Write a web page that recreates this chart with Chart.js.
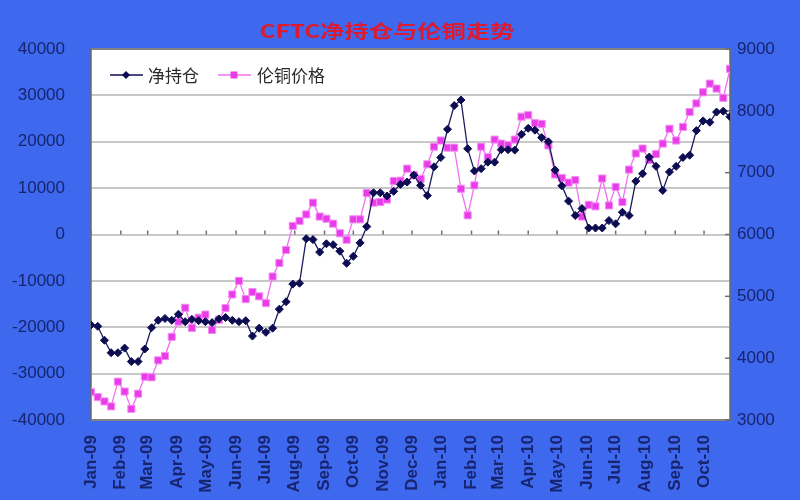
<!DOCTYPE html>
<html>
<head>
<meta charset="utf-8">
<script src="https://cdn.jsdelivr.net/npm/chart.js@4.4.0/dist/chart.umd.min.js"></script>
<style>
  html, body { margin: 0; padding: 0; background: #3e68ee; }
  #wrap { width: 800px; height: 500px; }
</style>
</head>
<body>
<div id="wrap"><canvas id="chart" width="800" height="500"></canvas></div>
<script>
// Title, series names and axis labels
const chartTitle = 'CFTC净持仓与伦铜走势';
const seriesNames = ['净持仓', '伦铜价格'];
const monthLabels = ['Jan-09', 'Feb-09', 'Mar-09', 'Apr-09', 'May-09', 'Jun-09', 'Jul-09', 'Aug-09',
    'Sep-09', 'Oct-09', 'Nov-09', 'Dec-09', 'Jan-10', 'Feb-10', 'Mar-10', 'Apr-10', 'May-10',
    'Jun-10', 'Jul-10', 'Aug-10', 'Sep-10', 'Oct-10'];

// Weekly values, first week 2009-01-06
const netPosition = [
    -19500, -19800, -22800, -25500, -25500, -24500, -27400, -27400, -24700, -20100,
    -18500, -18100, -18500, -17200, -18800, -18300, -18600, -18800, -19000, -18200,
    -17900, -18500, -18800, -18600, -21900, -20200, -21100, -20200, -16100, -14500,
    -10700, -10500, -900, -1100, -3800, -2000, -2200, -3600, -6200, -4700,
    -1800, 1700, 9000, 9000, 8300, 9300, 10800, 11300, 12800, 10600,
    8400, 14600, 16600, 22700, 27800, 29000, 18500, 13700, 14200, 15600,
    15600, 18300, 18300, 18200, 21600, 22900, 22500, 20900, 20000, 13900,
    10500, 7200, 4100, 5600, 1400, 1400, 1400, 3000, 2300, 4800,
    4100, 11500, 13100, 16700, 14700, 9500, 13500, 14700, 16600, 17100,
    22400, 24500, 24200, 26400, 26600, 25400
];
const copperPrice = [
    3450, 3370, 3300, 3220, 3620, 3460, 3180, 3425, 3700, 3690,
    3965, 4035, 4345, 4590, 4815, 4490, 4655, 4705, 4455, 4620,
    4810, 5030, 5250, 4955, 5070, 5000, 4890, 5320, 5540, 5750,
    6140, 6220, 6325, 6515, 6290, 6255, 6175, 6020, 5915, 6245,
    6245, 6670, 6515, 6525, 6565, 6865, 6870, 7065, 6960, 6900,
    7135, 7420, 7520, 7405, 7405, 6740, 6310, 6795, 7420, 7250,
    7535, 7470, 7445, 7535, 7905, 7930, 7800, 7790, 7440, 6970,
    6915, 6840, 6880, 6290, 6480, 6455, 6905, 6470, 6770, 6525,
    7050, 7310, 7390, 7205, 7300, 7470, 7710, 7520, 7740, 7980,
    8120, 8300, 8440, 8360, 8210, 8680
];

const startDate = Date.UTC(2009, 0, 6);
const DAY = 86400000;

// x in days since the first week
const toPoints = arr => arr.map((v, i) => ({ x: i * 7, y: v }));
const monthDays = monthLabels.map((l, m) => (Date.UTC(2009, m, 6) - startDate) / DAY);

const navy = '#0c0c52';
const pink = '#e83ce8';
const labelColor = '#172470';
const plainNumber = v => String(v);

const decor = {
    id: 'decor',
    beforeDraw(chart) {
        const { ctx, chartArea: a } = chart;
        ctx.save();
        ctx.fillStyle = '#3e68ee';
        ctx.fillRect(0, 0, chart.width, chart.height);
        ctx.fillStyle = '#ffffff';
        ctx.fillRect(a.left, a.top, a.right - a.left, a.bottom - a.top);
        ctx.restore();
    },
    beforeDatasetsDraw(chart) {
        const { ctx, chartArea: a, scales } = chart;
        const y0 = scales.y.getPixelForValue(0);
        ctx.save();
        ctx.strokeStyle = '#707070';
        ctx.lineWidth = 1.5;
        // month ticks on the zero line
        monthDays.forEach(d => {
            const x = scales.x.getPixelForValue(d);
            ctx.beginPath();
            ctx.moveTo(x, y0 - 4);
            ctx.lineTo(x, y0);
            ctx.stroke();
        });
        // right axis ticks pointing inward
        scales.y1.ticks.forEach(t => {
            const y = scales.y1.getPixelForValue(t.value);
            ctx.beginPath();
            ctx.moveTo(a.right - 5, y);
            ctx.lineTo(a.right, y);
            ctx.stroke();
        });
        ctx.strokeStyle = '#6a6a6a';
        ctx.lineWidth = 1.5;
        ctx.strokeRect(a.left, a.top, a.right - a.left, a.bottom - a.top);
        ctx.restore();
    },
    afterDraw(chart) {
        const ctx = chart.ctx;
        ctx.save();
        // title
        ctx.font = 'bold 18px "Noto Sans CJK SC"';
        ctx.fillStyle = '#dc1a30';
        ctx.textAlign = 'center';
        ctx.textBaseline = 'middle';
        ctx.translate(387, 31);
        ctx.scale(1.35, 1);
        ctx.fillText(chartTitle, 0, 0);
        ctx.restore();

        // legend inside the plot
        ctx.save();
        ctx.font = '17px "Noto Sans CJK SC"';
        ctx.textBaseline = 'middle';
        const ly = 75;
        ctx.strokeStyle = navy;
        ctx.lineWidth = 1.5;
        ctx.beginPath(); ctx.moveTo(110, ly); ctx.lineTo(143, ly); ctx.stroke();
        ctx.fillStyle = navy;
        ctx.beginPath();
        ctx.moveTo(126, ly - 4); ctx.lineTo(130, ly); ctx.lineTo(126, ly + 4); ctx.lineTo(122, ly);
        ctx.closePath(); ctx.fill();
        ctx.fillStyle = '#2a2a2a';
        ctx.fillText(seriesNames[0], 148, ly + 1);

        ctx.strokeStyle = '#f070f0';
        ctx.beginPath(); ctx.moveTo(218, ly); ctx.lineTo(251, ly); ctx.stroke();
        ctx.fillStyle = pink;
        ctx.fillRect(230.5, ly - 3.5, 7, 7);
        ctx.fillStyle = '#2a2a2a';
        ctx.fillText(seriesNames[1], 257, ly + 1);
        ctx.restore();
    }
};

new Chart(document.getElementById('chart'), {
    type: 'line',
    data: {
        datasets: [{
            label: seriesNames[0],
            data: toPoints(netPosition),
            yAxisID: 'y',
            borderColor: '#1c1c5c',
            borderWidth: 1.3,
            pointStyle: 'rectRot',
            pointRadius: 4,
            pointBackgroundColor: navy,
            pointBorderColor: navy,
            pointBorderWidth: 1,
            tension: 0
        }, {
            label: seriesNames[1],
            data: toPoints(copperPrice),
            yAxisID: 'y1',
            borderColor: '#f070f0',
            borderWidth: 1.3,
            pointStyle: 'rect',
            pointRadius: 5,
            pointBackgroundColor: pink,
            pointBorderColor: '#f58cf5',
            pointBorderWidth: 1,
            tension: 0
        }]
    },
    options: {
        responsive: false,
        animation: false,
        devicePixelRatio: 1,
        layout: { padding: { top: 49, left: 0, right: 0, bottom: 0 } },
        plugins: {
            legend: { display: false },
            title: { display: false },
            tooltip: { enabled: false }
        },
        scales: {
            x: {
                type: 'linear',
                position: 'bottom',
                min: 0,
                max: (netPosition.length - 1) * 7,
                afterBuildTicks: axis => { axis.ticks = monthDays.map(v => ({ value: v })); },
                afterFit: s => { s.height = 80; s.paddingLeft = 0; s.paddingRight = 0; },
                grid: { display: false },
                border: { display: false },
                ticks: {
                    autoSkip: false,
                    minRotation: 90,
                    maxRotation: 90,
                    padding: 7,
                    color: labelColor,
                    font: { family: 'Liberation Sans', size: 17, weight: 'bold' },
                    callback: (v, i) => monthLabels[i]
                }
            },
            y: {
                position: 'left',
                min: -40000,
                max: 40000,
                afterFit: s => { s.width = 91; s.paddingTop = 0; s.paddingBottom = 0; },
                grid: {
                    color: '#c8c8c8',
                    lineWidth: 2,
                    drawTicks: false
                },
                border: { display: false },
                ticks: {
                    stepSize: 10000,
                    padding: 26,
                    color: labelColor,
                    font: { family: 'Liberation Sans', size: 17 },
                    callback: plainNumber
                }
            },
            y1: {
                position: 'right',
                min: 3000,
                max: 9000,
                afterFit: s => { s.width = 70; s.paddingTop = 0; s.paddingBottom = 0; },
                grid: { drawOnChartArea: false, drawTicks: false },
                border: { display: false },
                ticks: {
                    stepSize: 1000,
                    padding: 7,
                    color: labelColor,
                    font: { family: 'Liberation Sans', size: 17 },
                    callback: plainNumber
                }
            }
        }
    },
    plugins: [decor]
});
</script>
</body>
</html>
